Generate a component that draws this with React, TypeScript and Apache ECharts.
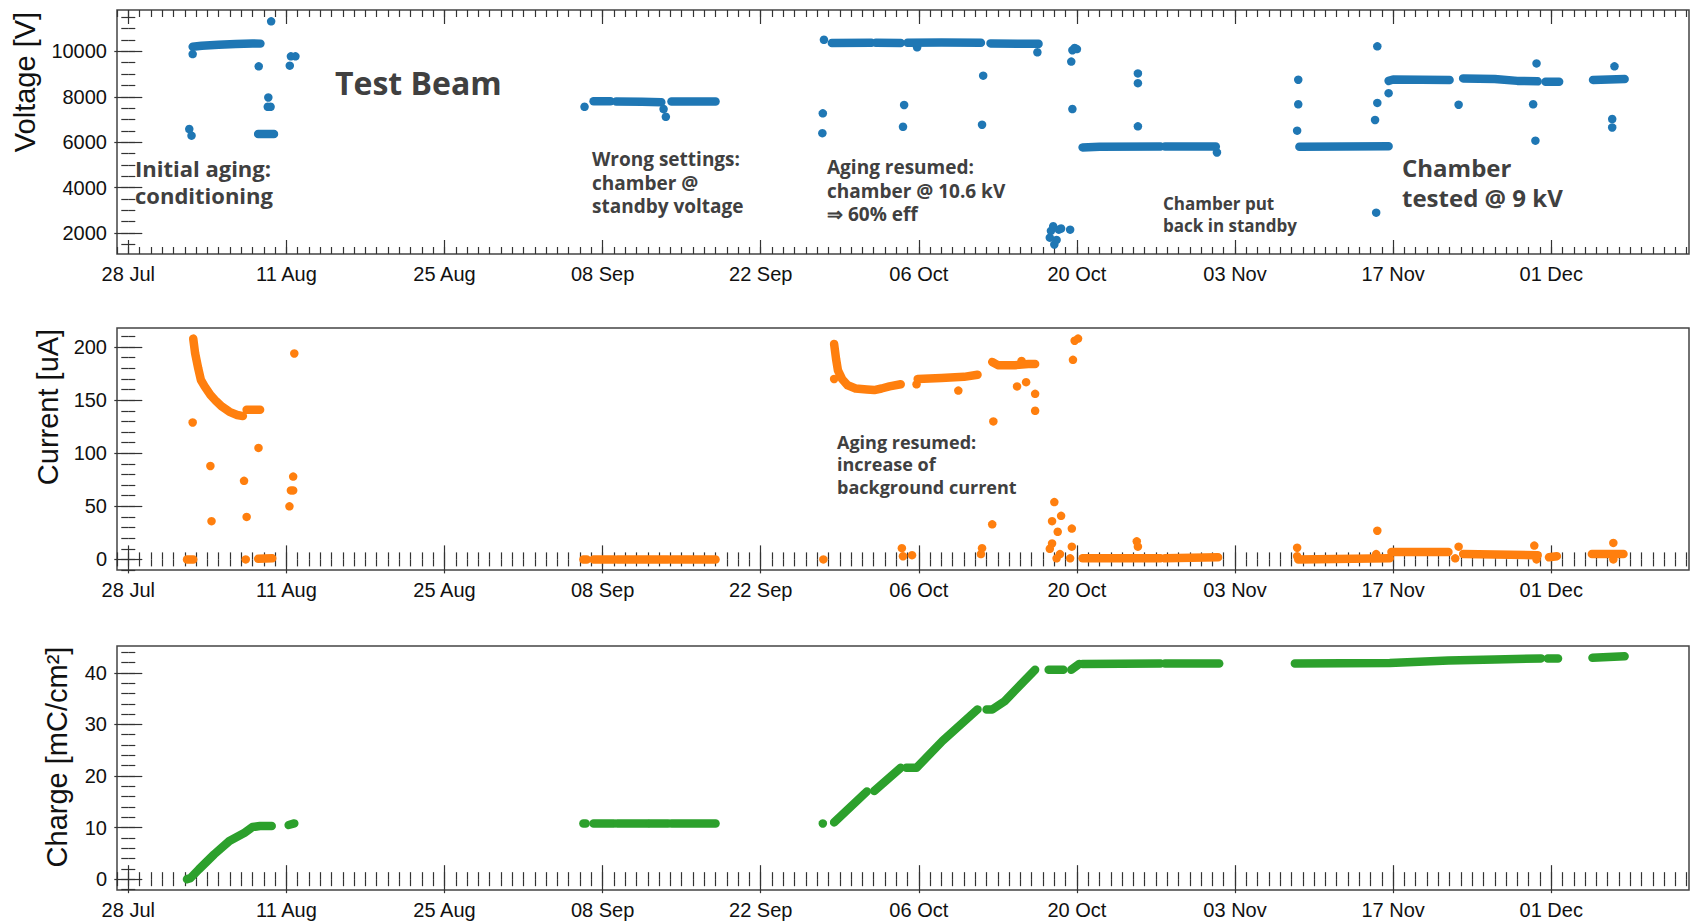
import React, { useEffect, useRef } from "react";
import * as echarts from "echarts";

// x values are days counted from 28 Jul
const xMajorDays = [0, 14, 28, 42, 56, 70, 84, 98, 112, 126];
const xMajorLabels = ["28 Jul", "11 Aug", "25 Aug", "08 Sep", "22 Sep", "06 Oct", "20 Oct", "03 Nov", "17 Nov", "01 Dec"];
const X_MIN = -1;
const X_MAX = 138.2;

const voltageTicks = [2000, 4000, 6000, 8000, 10000];
const currentTicks = [0, 50, 100, 150, 200];
const chargeTicks = [0, 10, 20, 30, 40];

const axisTitles = ["Voltage [V]", "Current [uA]", "Charge [mC/cm\u00B2]"];

// dense runs of measurements (drawn as continuous streaks)
const voltageStreaks: number[][][] = [
  [[5.7, 10200], [6.5, 10250], [8, 10290], [9.5, 10320], [11, 10350], [11.7, 10340]],
  [[11.5, 6360], [12.9, 6360]],
  [[41.2, 7800], [42.7, 7800]],
  [[43.2, 7790], [45.5, 7780], [47.2, 7760]],
  [[48.1, 7790], [52, 7790]],
  [[62.3, 10370], [65.8, 10380]],
  [[66.2, 10380], [68.4, 10370]],
  [[69.0, 10380], [72, 10390], [75.5, 10380]],
  [[76.35, 10350], [80.6, 10330]],
  [[84.5, 5770], [86, 5800], [91.4, 5810]],
  [[91.8, 5810], [96.3, 5810]],
  [[103.7, 5800], [111.6, 5820]],
  [[111.6, 8700], [112, 8760], [117, 8740]],
  [[118.2, 8810], [121, 8780], [123, 8700], [124.8, 8680]],
  [[125.5, 8660], [126.7, 8660]],
  [[129.7, 8740], [132.5, 8780]],
];
const voltageDots: number[][] = [
  [5.4, 6580], [5.6, 6290], [5.7, 9880], [11.55, 9340], [12.4, 7970], [12.35, 7560], [12.6, 7560],
  [12.65, 11320], [14.3, 9370], [14.4, 9780], [14.8, 9780], [40.4, 7560], [47.4, 7460], [47.6, 7120],
  [61.6, 10510], [61.5, 7270], [61.46, 6400], [69.85, 10180], [68.7, 7640], [68.6, 6680],
  [75.7, 8930], [75.6, 6770], [80.5, 9960], [83.6, 10050], [84.0, 10100], [83.8, 10150], [83.5, 9550],
  [83.6, 7460], [81.6, 1800], [81.7, 2100], [81.9, 2300], [82.0, 1500], [82.2, 1700], [82.4, 2150],
  [82.6, 2200], [83.4, 2150], [96.4, 5550], [89.4, 9030], [89.4, 8600], [89.4, 6700],
  [103.6, 8750], [103.6, 7670], [103.5, 6510], [110.6, 10220], [110.5, 2900], [110.6, 7730],
  [110.4, 6980], [111.6, 8160], [117.8, 7650], [124.7, 9470], [124.4, 7670], [124.6, 6070],
  [131.6, 9340], [131.4, 7020], [131.4, 6650],
];

const currentStreaks: number[][][] = [
  [[5.75, 208], [5.92, 194], [6.19, 180], [6.43, 169], [6.76, 163], [7.27, 155], [7.78, 149],
   [8.29, 144], [8.96, 139], [9.64, 136], [10.15, 135]],
  [[10.48, 141], [11.67, 141]],
  [[5.2, 0], [5.75, 0]],
  [[11.5, 0.5], [12.75, 1]],
  [[40.3, 0], [40.6, 0]],
  [[41.2, 0], [43, 0]],
  [[43.3, 0], [46, 0]],
  [[46.2, 0], [47.8, 0]],
  [[48.1, 0], [52, 0]],
  [[62.5, 203], [62.67, 189], [62.84, 178], [63.2, 170], [63.7, 164], [64.4, 161], [65.4, 160],
   [66.05, 159.5], [66.7, 161], [67.4, 163], [68.4, 165]],
  [[69.9, 170], [72, 171], [74, 172], [75.2, 174]],
  [[76.5, 186], [77, 183], [78.5, 183], [79.7, 184], [80.3, 184]],
  [[84.5, 1], [91.4, 1]],
  [[91.8, 1], [96.5, 2]],
  [[103.6, 0], [111.7, 1]],
  [[111.85, 7], [116.9, 7]],
  [[118.2, 5], [124.8, 4]],
  [[125.8, 2], [126.5, 3]],
  [[129.6, 5], [132.4, 5]],
];
const currentDots: number[][] = [
  [5.7, 129], [7.27, 88], [7.37, 36], [10.25, 74], [10.48, 40], [11.53, 105], [10.4, 0],
  [14.27, 50], [14.4, 65], [14.6, 65], [14.6, 78], [14.7, 194], [61.55, 0], [62.5, 170],
  [69.8, 165], [73.5, 159], [78.7, 163], [79.5, 167], [80.3, 156], [80.3, 140], [76.6, 130],
  [76.5, 33], [75.6, 10.6], [75.5, 5], [68.5, 10.6], [68.6, 3], [69.4, 4], [82.0, 54], [81.8, 36],
  [82.6, 41], [82.3, 26], [83.55, 29], [81.8, 15], [81.6, 10], [83.55, 12], [82.5, 5], [82.2, 1],
  [83.4, 1], [83.65, 188], [83.8, 206], [84.1, 208], [89.3, 17], [89.4, 12], [103.5, 11],
  [103.5, 3], [110.6, 27], [110.5, 5], [117.8, 12], [117.5, 1], [124.5, 13], [124.7, 0],
  [131.5, 15.5], [131.5, 0], [79.1, 187],
];

const chargeStreaks: number[][][] = [
  [[5.2, 0], [5.5, 0.2], [6.25, 1.9], [7.6, 4.8], [8.95, 7.4], [10.3, 9.0], [11.0, 10.1], [11.66, 10.3], [12.7, 10.3]],
  [[14.2, 10.5], [14.7, 10.8]],
  [[40.3, 10.8], [40.5, 10.8]],
  [[41.2, 10.8], [43, 10.8]],
  [[43.3, 10.8], [46, 10.8]],
  [[46.2, 10.8], [47.8, 10.8]],
  [[48.1, 10.8], [52, 10.8]],
  [[62.5, 11.0], [65.4, 17.0]],
  [[66.05, 17.1], [68.4, 21.6]],
  [[68.9, 21.6], [69.8, 21.6], [72.1, 26.8], [75.2, 32.9]],
  [[76.0, 32.9], [76.5, 32.9], [77.6, 34.5], [80.3, 40.6]],
  [[81.5, 40.6], [82.8, 40.6]],
  [[83.5, 40.6], [84.2, 41.7]],
  [[84.5, 41.7], [91.4, 41.8]],
  [[91.8, 41.8], [96.6, 41.8]],
  [[103.3, 41.8], [111.7, 41.9], [116.9, 42.4], [121, 42.6], [125.1, 42.8]],
  [[125.7, 42.8], [126.6, 42.8]],
  [[129.65, 42.9], [132.5, 43.2]],
];
const chargeDots: number[][] = [[61.5, 10.8]];

// annotation blocks: x = left edge, y = vertical centre of the block
const annotations = [
  { text: "Test Beam", x: 335, y: 82, size: 32, lh: 40 },
  { text: "Initial aging:\nconditioning", x: 135, y: 181.5, size: 22, lh: 27 },
  { text: "Wrong settings:\nchamber @\nstandby voltage", x: 592, y: 182.5, size: 19, lh: 23.5 },
  { text: "Aging resumed:\nchamber @ 10.6 kV\n\u21D2 60% eff", x: 827, y: 190.5, size: 19, lh: 23.5 },
  { text: "Chamber put\nback in standby", x: 1163, y: 214, size: 17, lh: 22 },
  { text: "Chamber\ntested @ 9 kV", x: 1402, y: 182, size: 24, lh: 30 },
  { text: "Aging resumed:\nincrease of\nbackground current", x: 837, y: 464, size: 18, lh: 22.5 },
];

function stepTicks(min: number, max: number, step: number) {
  const out: number[] = [];
  for (let v = Math.ceil(min / step) * step; v <= max + 1e-9; v += step) out.push(v);
  return out;
}

export default function App() {
  const ref = useRef<HTMLDivElement>(null);
  useEffect(() => {
    if (!ref.current) return;
    const chart = echarts.init(ref.current, null, { renderer: "svg" });
    const panels = [
      { min: 1080, max: 11820, major: voltageTicks, minorStep: 500, color: "#1f77b4",
        streaks: voltageStreaks, dots: voltageDots, top: 10, height: 244, titleX: 25, titleY: 82 },
      { min: -10, max: 218, major: currentTicks, minorStep: 10, color: "#ff7f0e",
        streaks: currentStreaks, dots: currentDots, top: 328, height: 242, titleX: 48, titleY: 407 },
      { min: -2.1, max: 45.2, major: chargeTicks, minorStep: 2, color: "#2ca02c",
        streaks: chargeStreaks, dots: chargeDots, top: 646, height: 244, titleX: 57, titleY: 757 },
    ];
    const xMinor = stepTicks(X_MIN, X_MAX, 1);
    const tickLine = { color: "#333", width: 1.2 };
    const grids: any[] = [];
    const xAxes: any[] = [];
    const yAxes: any[] = [];
    const series: any[] = [];
    const graphic: any[] = [];
    const font = "'Liberation Sans', Arial, sans-serif";
    panels.forEach((p, g) => {
      grids.push({ left: 117, right: 1, top: p.top, height: p.height, show: true, borderColor: "#444", borderWidth: 1.5 });
      const yMinor = stepTicks(p.min, p.max, p.minorStep);
      const xBase = { gridIndex: g, type: "value", min: X_MIN, max: X_MAX, axisLine: { show: false }, splitLine: { show: false } };
      xAxes.push({ ...xBase, position: "bottom",
        axisTick: { show: true, inside: true, length: 14, lineStyle: tickLine, customValues: xMajorDays },
        axisLabel: { show: true, customValues: xMajorDays, color: "#111", fontSize: 20, fontFamily: font, margin: 10,
          formatter: (v: number) => { const i = xMajorDays.indexOf(Math.round(v)); return i >= 0 ? xMajorLabels[i] : ""; } } });
      xAxes.push({ ...xBase, position: "bottom", axisTick: { show: true, inside: true, length: 7, lineStyle: tickLine, customValues: xMinor }, axisLabel: { show: false } });
      xAxes.push({ ...xBase, position: "top", axisTick: { show: true, inside: true, length: 14, lineStyle: tickLine, customValues: xMajorDays }, axisLabel: { show: false } });
      xAxes.push({ ...xBase, position: "top", axisTick: { show: true, inside: true, length: 7, lineStyle: tickLine, customValues: xMinor }, axisLabel: { show: false } });
      const yBase = { gridIndex: g, type: "value", min: p.min, max: p.max, axisLine: { show: false }, splitLine: { show: false } };
      yAxes.push({ ...yBase, position: "left",
        axisTick: { show: true, inside: true, length: 14, lineStyle: tickLine, customValues: p.major },
        axisLabel: { show: true, customValues: p.major, color: "#111", fontSize: 20, fontFamily: font, margin: 10,
          formatter: (v: number) => String(Math.round(v)) } });
      yAxes.push({ ...yBase, position: "left", axisTick: { show: true, inside: true, length: 7, lineStyle: tickLine, customValues: yMinor }, axisLabel: { show: false } });
      yAxes.push({ ...yBase, position: "right", axisTick: { show: true, inside: true, length: 14, lineStyle: tickLine, customValues: p.major }, axisLabel: { show: false } });
      yAxes.push({ ...yBase, position: "right", axisTick: { show: true, inside: true, length: 7, lineStyle: tickLine, customValues: yMinor }, axisLabel: { show: false } });
      p.streaks.forEach((seg) => {
        series.push({ type: "line", xAxisIndex: 4 * g, yAxisIndex: 4 * g, data: seg, symbol: "none", silent: true,
          lineStyle: { color: p.color, width: 8.5, cap: "round", join: "round" } });
      });
      series.push({ type: "scatter", xAxisIndex: 4 * g, yAxisIndex: 4 * g, data: p.dots, symbolSize: 8.5, silent: true,
        itemStyle: { color: p.color, opacity: 1 } });
      graphic.push({ type: "text", x: p.titleX, y: p.titleY, rotation: Math.PI / 2, silent: true,
        style: { text: axisTitles[g], fill: "#111", fontSize: 29, fontFamily: font, align: "center", verticalAlign: "middle" } });
    });
    annotations.forEach((a) => {
      const n = a.text.split("\n").length;
      graphic.push({
        type: "text", x: a.x, y: a.y - (n * a.lh) / 2, silent: true,
        style: { text: a.text, fill: "#404040", fontSize: a.size, fontWeight: "bold", fontFamily: "'Open Sans', 'Noto Sans', sans-serif",
          lineHeight: a.lh, verticalAlign: "top", align: "left" },
      });
    });
    chart.setOption({ animation: false, backgroundColor: "#ffffff", grid: grids, xAxis: xAxes, yAxis: yAxes, series, graphic });
    return () => chart.dispose();
  }, []);
  return <div ref={ref} style={{ position: "fixed", left: 0, top: 0, width: 1690, height: 921 }} />;
}
